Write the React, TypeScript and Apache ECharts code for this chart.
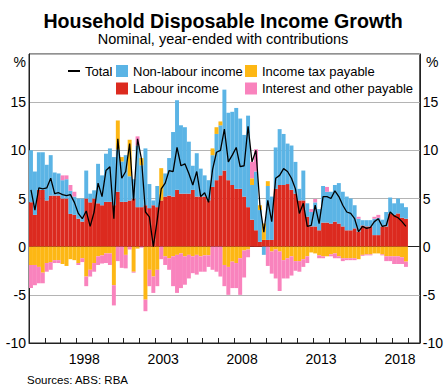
import React, { useEffect, useRef } from 'react';
import * as echarts from 'echarts';

const FONT = "'Liberation Sans', Arial, Helvetica, sans-serif";

// Quarterly categories 1995 Q1 .. 2019 Q3 (axis runs a little past the data)
const categories: string[] = [];
for (let y = 1995; y <= 2019; y++) {
  for (let q = 1; q <= 4; q++) {
    if (y === 2019 && q === 4) break;
    categories.push(`${y}-Q${q}`);
  }
}
const labelledYears = [1998, 2003, 2008, 2013, 2018];
const yTicks = [-10, -5, 0, 5, 10, 15, 20];

// Contributions, percentage points (1995 Q1 .. 2018 Q4)
const labour = [
  4.6, 3.3, 5.9, 5.9, // 1995
  4.8, 5.3, 5.3, 5.3, // 1996
  5.0, 5.0, 3.4, 3.3, // 1997
  2.9, 2.6, 5.0, 4.6, // 1998
  5.0, 4.5, 4.3, 4.65, // 1999
  4.65, 4.3, 5.7, 4.65, // 2000
  4.65, 4.8, 5.0, 4.1, // 2001
  4.1, 4.3, 4.0, 4.3, // 2002
  4.1, 4.8, 5.2, 5.3, // 2003
  5.2, 5.9, 5.5, 5.5, // 2004
  5.5, 5.9, 5.2, 5.2, // 2005
  5.2, 4.8, 6.2, 6.9, // 2006
  7.4, 7.9, 6.9, 6.4, // 2007
  6.0, 6.0, 5.2, 4.1, // 2008
  2.8, 1.7, 0.5, 0.7, // 2009
  0.7, 0.7, 6.0, 6.4, // 2010
  6.4, 6.5, 5.9, 5.5, // 2011
  4.8, 4.8, 3.1, 2.1, // 2012
  2.1, 1.7, 2.5, 2.5, // 2013
  2.4, 2.6, 2.4, 2.1, // 2014
  1.7, 1.7, 1.9, 1.55, // 2015
  2.2, 2.1, 2.1, 1.2, // 2016
  1.2, 2.1, 2.1, 3.45, // 2017
  3.3, 3.45, 3.0, 2.9, // 2018
];

const nonLabour = [
  5.4, 4.5, 3.9, 3.9, // 1995
  3.7, 4.2, 2.4, 2.3, // 1996
  1.9, 2.0, 2.4, 1.9, // 1997
  2.1, 2.4, 2.9, 0.9, // 1998
  0.85, 4.1, 3.1, 5.0, // 1999
  5.55, 5.0, 4.4, 4.2, // 2000
  4.85, 2.5, 2.0, 6.4, // 2001
  4.35, 5.9, 2.5, 0.5, // 2002
  2.2, 0.0, 2.4, 3.9, // 2003
  6.7, 9.3, 7.1, 6.9, // 2004
  5.4, 2.5, 4.5, 2.9, // 2005
  2.2, 2.1, 3.3, 4.8, // 2006
  5.2, 8.4, 7.0, 7.6, // 2007
  8.4, 7.3, 6.4, 9.5, // 2008
  3.6, 6.1, 3.3, -0.85, // 2009
  5.6, 4.5, 4.3, 5.8, // 2010
  5.3, 4.2, 4.6, 3.3, // 2011
  1.2, 3.1, 1.4, 1.5, // 2012
  2.5, 2.2, 3.8, 3.2, // 2013
  3.3, 3.8, 4.2, 3.6, // 2014
  3.5, 3.3, 2.4, 1.35, // 2015
  0.55, 0.65, 0.65, 1.7, // 2016
  1.8, 0.7, 1.5, 1.65, // 2017
  1.2, 1.55, 1.5, 1.2, // 2018
];

const incomeTax = [
  -1.9, -1.9, -2.1, -2.7, // 1995
  -1.7, -1.6, -1.4, -1.4, // 1996
  -1.8, -2.0, -1.3, -1.4, // 1997
  -1.7, -1.2, -3.1, -2.4, // 1998
  -1.7, -1.0, -0.9, -0.7, // 1999
  -0.7, -4.0, 3.0, 0.45, // 2000
  -0.85, 3.8, -2.6, -0.2, // 2001
  0.75, -5.5, -2.4, -3.1, // 2002
  -2.4, 3.35, -1.0, -1.2, // 2003
  -1.0, -0.85, -0.7, -1.0, // 2004
  -0.85, -1.0, -0.85, -1.0, // 2005
  -0.9, -0.9, 0.7, 0.7, // 2006
  0.4, -1.9, -2.1, -1.55, // 2007
  -1.7, -1.2, -0.4, -0.3, // 2008
  0.7, 0.0, 0.5, 1.7, // 2009
  0.5, -0.5, -0.3, -0.5, // 2010
  -1.4, -1.2, -1.0, -1.5, // 2011
  -1.5, -1.3, -1.0, -0.6, // 2012
  -0.7, -0.9, -1.0, -1.0, // 2013
  -0.8, -0.7, -1.0, -1.2, // 2014
  -1.2, -1.2, -1.2, -1.3, // 2015
  -0.85, -0.8, -0.8, -0.7, // 2016
  -0.7, -0.8, -1.0, -1.0, // 2017
  -1.0, -1.0, -1.1, -1.55, // 2018
];

const interestOther = [
  -2.4, -2.1, -1.7, -1.1, // 1995
  -0.9, -0.8, -0.3, -0.3, // 1996
  0.5, 0.4, 0.6, 0.5, // 1997
  -0.2, -0.4, -1.0, -0.7, // 1998
  -0.9, -0.9, -0.85, -1.0, // 1999
  -1.2, -2.1, -1.5, -2.2, // 2000
  -1.4, -0.3, -0.1, 0.95, // 2001
  -0.1, -1.2, -1.7, -1.7, // 2002
  -1.7, -1.3, -0.9, -1.2, // 2003
  -3.1, -3.95, -3.6, -2.95, // 2004
  -2.45, -1.75, -2.05, -1.6, // 2005
  -1.7, -1.2, -2.4, -2.6, // 2006
  -3.1, -2.2, -2.9, -2.75, // 2007
  -2.6, -3.8, -2.8, -0.8, // 2008
  1.7, 2.3, 0.0, 0.0, // 2009
  -2.0, -2.3, -3.0, -4.1, // 2010
  -1.9, -2.1, -2.0, -1.0, // 2011
  -1.1, -0.8, -0.7, 0.3, // 2012
  0.35, -0.3, -0.2, 0.5, // 2013
  -0.2, -0.5, -0.2, -0.3, // 2014
  -0.2, -0.2, -0.2, 0.2, // 2015
  -0.1, -0.1, -0.1, 0.2, // 2016
  0.3, -0.1, -0.5, -0.5, // 2017
  -0.8, -0.8, -0.7, -0.55, // 2018
];

const total = [
  5.9, 3.8, 6.1, 6.0, // 1995
  6.1, 7.1, 5.5, 5.6, // 1996
  5.4, 5.3, 5.4, 4.6, // 1997
  3.45, 2.9, 3.7, 2.1, // 1998
  3.6, 6.6, 5.2, 7.9, // 1999
  8.3, 2.9, 11.2, 7.1, // 2000
  7.8, 10.7, 4.8, 11.2, // 2001
  9.1, 3.6, 3.1, 0.0, // 2002
  2.8, 6.0, 6.6, 7.9, // 2003
  7.8, 10.3, 8.4, 8.6, // 2004
  7.6, 6.4, 7.8, 5.2, // 2005
  5.6, 4.6, 8.0, 9.8, // 2006
  10.0, 12.2, 8.8, 9.5, // 2007
  10.3, 8.3, 8.4, 12.5, // 2008
  8.8, 10.0, 4.3, 1.5, // 2009
  4.8, 2.6, 7.1, 7.4, // 2010
  8.1, 7.8, 7.1, 6.0, // 2011
  3.45, 4.5, 2.1, 2.2, // 2012
  4.3, 2.4, 5.2, 5.2, // 2013
  5.0, 5.8, 5.2, 4.3, // 2014
  3.6, 3.45, 2.9, 1.55, // 2015
  2.1, 1.9, 2.0, 2.6, // 2016
  2.9, 2.1, 2.2, 3.6, // 2017
  3.2, 3.0, 2.6, 2.1, // 2018
];

const COLORS = {
  labour: '#dc2a1f',
  nonLabour: '#5bb4e5',
  tax: '#fdb714',
  interest: '#f983bd',
  total: '#000000',
};

export default function App() {
  const ref = useRef<HTMLDivElement>(null);

  useEffect(() => {
    if (!ref.current) return;
    const chart = echarts.init(ref.current, undefined, { renderer: 'svg' });

    const legendBase = {
      orient: 'horizontal',
      padding: 0,
      itemGap: 0,
      selectedMode: false,
      textStyle: { fontSize: 13, color: '#000', fontFamily: FONT },
    };

    const yAxisCommon = {
      type: 'value',
      min: -10,
      max: 20,
      interval: 5,
      axisLine: { show: true, lineStyle: { color: '#222', width: 1 } },
      axisTick: { show: false },
      axisLabel: {
        fontSize: 14,
        color: '#000',
        fontFamily: FONT,
        margin: 3,
        formatter: (v: number) => (v === 20 ? '' : String(v)),
      },
    };

    const option: any = {
      animation: false,
      textStyle: { fontFamily: FONT },
      title: [
        {
          text: 'Household Disposable Income Growth',
          left: 'center',
          top: 11,
          padding: 0,
          textStyle: { fontSize: 19.6, fontWeight: 'bold', color: '#000', fontFamily: FONT },
        },
        {
          text: 'Nominal, year-ended with contributions',
          left: 'center',
          top: 31,
          padding: 0,
          textStyle: { fontSize: 14.5, fontWeight: 'normal', color: '#000', fontFamily: FONT },
        },
      ],
      grid: {
        left: 29,
        right: 23,
        top: 54,
        bottom: 43,
        show: true,
        borderColor: '#222',
        borderWidth: 1,
        backgroundColor: 'transparent',
      },
      legend: [
        { ...legendBase, left: 68, top: 64.5, itemWidth: 12, itemHeight: 2, data: [{ name: 'Total', icon: 'rect' }] },
        { ...legendBase, left: 116, top: 64.5, itemWidth: 12, itemHeight: 12, data: [{ name: 'Non-labour income', icon: 'rect' }] },
        { ...legendBase, left: 245, top: 64.5, itemWidth: 12, itemHeight: 12, data: [{ name: 'Income tax payable', icon: 'rect' }] },
        { ...legendBase, left: 116, top: 82, itemWidth: 12, itemHeight: 12, data: [{ name: 'Labour income', icon: 'rect' }] },
        { ...legendBase, left: 245, top: 82, itemWidth: 12, itemHeight: 12, data: [{ name: 'Interest and other payable', icon: 'rect' }] },
      ],
      xAxis: {
        type: 'category',
        data: categories,
        boundaryGap: true,
        axisLine: { show: true, onZero: false, lineStyle: { color: '#222', width: 1 } },
        axisTick: {
          show: true,
          inside: true,
          length: 5,
          interval: (i: number) => i % 4 === 0,
          lineStyle: { color: '#222', width: 1 },
        },
        axisLabel: {
          show: true,
          interval: (i: number, v: string) =>
            i % 4 === 2 && labelledYears.includes(Number(String(v).slice(0, 4))),
          formatter: (v: string) => String(v).slice(0, 4),
          fontSize: 14,
          color: '#000',
          fontFamily: FONT,
          margin: 9,
          padding: [0, 4, 0, 0],
        },
        splitLine: { show: false },
      },
      yAxis: [
        {
          ...yAxisCommon,
          position: 'left',
          splitLine: {
            show: true,
            lineStyle: {
              color: yTicks.map((t) => (t === 0 ? '#222' : '#b4b4b4')),
              width: 1,
            },
          },
        },
        {
          ...yAxisCommon,
          position: 'right',
          splitLine: { show: false },
        },
      ],
      series: [
        {
          name: 'Labour income',
          type: 'bar',
          stack: 'contrib',
          data: labour,
          barCategoryGap: '0%',
          itemStyle: { color: COLORS.labour },
        },
        {
          name: 'Non-labour income',
          type: 'bar',
          stack: 'contrib',
          data: nonLabour,
          barCategoryGap: '0%',
          itemStyle: { color: COLORS.nonLabour },
        },
        {
          name: 'Income tax payable',
          type: 'bar',
          stack: 'contrib',
          data: incomeTax,
          barCategoryGap: '0%',
          itemStyle: { color: COLORS.tax },
        },
        {
          name: 'Interest and other payable',
          type: 'bar',
          stack: 'contrib',
          data: interestOther,
          barCategoryGap: '0%',
          itemStyle: { color: COLORS.interest },
        },
        {
          name: 'Total',
          type: 'line',
          data: total,
          symbol: 'none',
          z: 5,
          color: COLORS.total,
          lineStyle: { color: COLORS.total, width: 1.3 },
          itemStyle: { color: COLORS.total },
        },
      ],
      graphic: [
        {
          type: 'text',
          x: 26,
          y: 62,
          style: {
            text: '%',
            fill: '#000',
            font: `14px ${FONT}`,
            align: 'right',
            verticalAlign: 'middle',
            textAlign: 'right',
            textVerticalAlign: 'middle',
          },
        },
        {
          type: 'text',
          x: 426,
          y: 62,
          style: {
            text: '%',
            fill: '#000',
            font: `14px ${FONT}`,
            align: 'left',
            verticalAlign: 'middle',
            textAlign: 'left',
            textVerticalAlign: 'middle',
          },
        },
        {
          type: 'text',
          x: 27,
          y: 374,
          style: {
            text: 'Sources: ABS: RBA',
            fill: '#000',
            font: `11.5px ${FONT}`,
            align: 'left',
            verticalAlign: 'top',
            textAlign: 'left',
            textVerticalAlign: 'top',
          },
        },
      ],
    };

    chart.setOption(option);
    return () => {
      chart.dispose();
    };
  }, []);

  return (
    <div
      ref={ref}
      style={{ position: 'absolute', left: 0, top: 0, width: 446, height: 386 }}
    />
  );
}
